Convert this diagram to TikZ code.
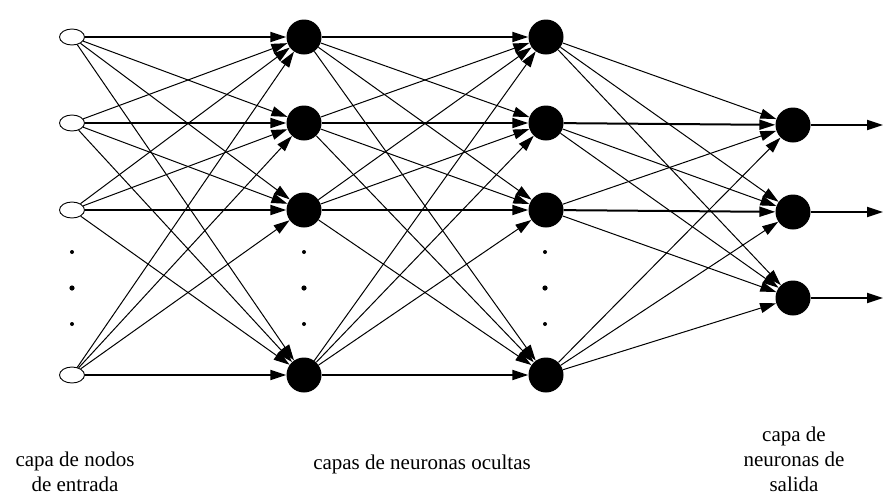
\documentclass[tikz,border=0pt]{standalone}
\usepackage{fontspec}
\setmainfont{Liberation Serif}
\usetikzlibrary{shapes.geometric, arrows.meta, positioning}

\begin{document}
\begin{tikzpicture}[x=1pt, y=-1pt,
    entrada/.style={ellipse, draw, line width=0.9pt, fill=white, minimum width=25pt, minimum height=16pt, inner sep=0pt},
    neurona/.style={circle, fill=black, minimum size=35pt, inner sep=0pt},
    enlace/.style={-{Triangle[length=16pt,width=10pt]}, line width=1pt},
    recto/.style={enlace, line width=2pt},
    rotulo/.style={align=center, font=\fontsize{21}{25}\selectfont}
  ]
  \useasboundingbox (0,0) rectangle (883,496);

  % capas de nodos
  \foreach \i/\y in {1/37, 2/123, 3/210, 4/375} {
    \node[entrada] (in\i) at (72,\y) {};
    \node[neurona] (ha\i) at (304,\y) {};
    \node[neurona] (hb\i) at (546,\y) {};
  }
  \foreach \k/\y in {1/125, 2/212, 3/298} {
    \node[neurona] (out\k) at (793,\y) {};
    \coordinate (fin\k) at (883,\y);
  }

  % puntos suspensivos
  \foreach \x in {72, 304, 545}
    \foreach \y/\r in {252/2pt, 288/2.6pt, 324/2pt}
      \fill (\x,\y) circle (\r);

  % conexiones
  \foreach \i in {1,...,4}
    \foreach \j in {1,...,4} {
      \ifnum\i=\j \draw[recto] (in\i) -- (ha\j); \else \draw[enlace] (in\i) -- (ha\j); \fi
      \ifnum\i=\j \draw[recto] (ha\i) -- (hb\j); \else \draw[enlace] (ha\i) -- (hb\j); \fi
    }
  \foreach \i in {1,...,4}
    \foreach \k in {1,2,3} {
      \pgfmathtruncatemacro\sig{\k<3 ? \k+1 : 0}
      \ifnum\i=\sig \draw[recto] (hb\i) -- (out\k); \else \draw[enlace] (hb\i) -- (out\k); \fi
    }
  \foreach \k in {1,2,3}
    \draw[recto] (out\k) -- (fin\k);

  % rotulos
  \node[rotulo] (lbin) at (75,472) {capa de nodos\\de entrada};
  \node[rotulo] (lboc) at (422,464) {capas de neuronas ocultas};
  \node[rotulo] (lbout) at (794,459) {capa de\\neuronas de\\salida};
\end{tikzpicture}
\end{document}
